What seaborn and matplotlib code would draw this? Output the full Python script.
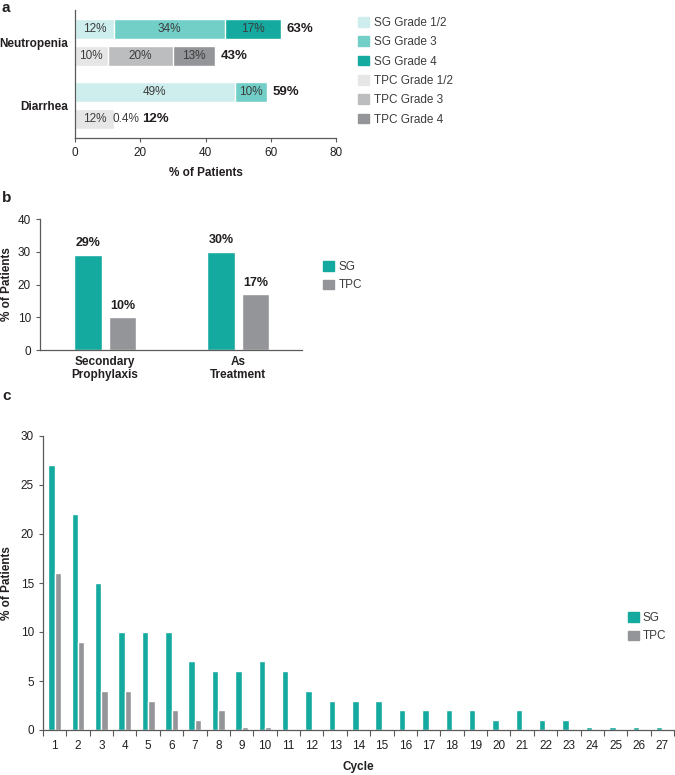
import numpy as np
import pandas as pd
import matplotlib
matplotlib.use("Agg")
import matplotlib.pyplot as plt
import seaborn as sns
from matplotlib.patches import Patch

# ---- panel a: grade of neutropenia / diarrhea (stacked) ----
a_conditions = ["Neutropenia", "Neutropenia", "Diarrhea", "Diarrhea"]
a_arms = ["SG", "TPC", "SG", "TPC"]
a_g12 = [12, 10, 49, 12]
a_g3 = [34, 20, 10, 0.4]
a_g4 = [17, 13, 0, 0]
a_total = [63, 43, 59, 12]

# ---- panel b: G-CSF use ----
b_categories = ["Secondary\nProphylaxis", "As\nTreatment"]
b_sg = [29, 30]
b_tpc = [10, 17]

# ---- panel c: neutropenia by cycle ----
c_cycles = [str(i) for i in range(1, 28)]
c_sg = [27, 22, 15, 10, 10, 10, 7, 6, 6, 7, 6, 4, 3, 3, 3, 2, 2, 2, 2, 1, 2, 1, 1, 0.3, 0.3, 0.3, 0.3]
c_tpc = [16, 9, 4, 4, 3, 2, 1, 2, 0.3, 0.3, 0, 0, 0, 0, 0, 0, 0, 0, 0, 0, 0, 0, 0, 0, 0, 0, 0]

SG_COL = "#14aaa0"
TPC_COL = "#939598"
sg_shades = {"g12": "#cdeeed", "g3": "#72cfc8", "g4": "#14aaa0"}
tpc_shades = {"g12": "#e6e6e6", "g3": "#bcbdbf", "g4": "#939598"}
legend_a_labels = ["SG Grade 1/2", "SG Grade 3", "SG Grade 4",
                   "TPC Grade 1/2", "TPC Grade 3", "TPC Grade 4"]

sns.set_style("ticks")
plt.rcParams["font.family"] = ["Liberation Sans", "DejaVu Sans"]
plt.rcParams["font.size"] = 8.5
TXT = "#231f20"
SPINE = "#5a5a5a"

fig = plt.figure(figsize=(6.75, 7.75), dpi=100)
W, H = 675, 775
ax_a = fig.add_axes([75 / W, 1 - 138 / H, 261 / W, 128 / H])
ax_b = fig.add_axes([40 / W, 1 - 350 / H, 262 / W, 131 / H])
ax_c = fig.add_axes([43 / W, 1 - 730 / H, 631 / W, 294 / H])


def style_axes(ax):
    sns.despine(ax=ax)
    for s in ["left", "bottom"]:
        ax.spines[s].set_color(SPINE)
        ax.spines[s].set_linewidth(0.9)
    ax.tick_params(colors=SPINE, labelcolor=TXT, labelsize=8.5, length=3, width=0.8)


# ---------------- panel a ----------------
df_a = pd.DataFrame({"condition": a_conditions, "arm": a_arms,
                     "g12": a_g12, "g3": a_g3, "g4": a_g4})
df_a["cum3"] = df_a["g12"] + df_a["g3"]
df_a["cum4"] = df_a["cum3"] + df_a["g4"]

# draw the longest cumulative layer first, shorter ones on top
for col, shade in [("cum4", "g4"), ("cum3", "g3"), ("g12", "g12")]:
    sns.barplot(data=df_a, y="condition", x=col, hue="arm", hue_order=["SG", "TPC"],
                palette={"SG": sg_shades[shade], "TPC": tpc_shades[shade]},
                orient="h", width=0.86, gap=0.26, saturation=1, legend=False, ax=ax_a)

bars = [b for cont in ax_a.containers[-2:] for b in cont]
ycs = sorted(b.get_y() + b.get_height() / 2 for b in bars)
for i, yc in enumerate(ycs):
    segs = [a_g12[i], a_g3[i], a_g4[i]]
    start = 0
    tiny = False
    for v in segs:
        if v <= 0:
            continue
        if v >= 2:
            ax_a.text(start + v / 2, yc, f"{v:g}%", ha="center", va="center",
                      color="#3c3c3c", fontsize=8.5)
        else:
            ax_a.annotate(f"{v:g}%", (start + v, yc), xytext=(-2, 0),
                          textcoords="offset points", ha="left", va="center",
                          color="#3c3c3c", fontsize=8.5)
            tiny = True
        start += v
    ax_a.annotate(f"{a_total[i]}%", (start, yc), xytext=(19 if tiny else 4, 0),
                  textcoords="offset points", ha="left", va="center",
                  fontweight="bold", fontsize=9.5, color=TXT)

style_axes(ax_a)
ax_a.set_xlim(0, 80)
ax_a.set_xticks([0, 20, 40, 60, 80])
ax_a.set_ylim(1.52, -0.52)
ax_a.set_yticks([0, 1])
ax_a.set_yticklabels(["Neutropenia", "Diarrhea"], fontweight="bold")
ax_a.tick_params(axis="y", length=0, pad=5)
ax_a.set_ylabel("")
ax_a.set_xlabel("% of Patients", fontweight="bold", fontsize=8.5, color=TXT, labelpad=6)

handles_a = [Patch(color=sg_shades[k]) for k in ["g12", "g3", "g4"]] + \
            [Patch(color=tpc_shades[k]) for k in ["g12", "g3", "g4"]]
fig.legend(handles_a, legend_a_labels, loc="upper left", bbox_to_anchor=(358 / W, 1 - 17 / H),
           frameon=False, borderpad=0, borderaxespad=0, handlelength=0.9, handleheight=0.9,
           handletextpad=0.45, labelspacing=0.62, fontsize=8.5, labelcolor="#3c3c3c")

# ---------------- panel b ----------------
df_b = pd.DataFrame({"category": b_categories * 2,
                     "arm": ["SG"] * len(b_sg) + ["TPC"] * len(b_tpc),
                     "pct": b_sg + b_tpc})
sns.barplot(data=df_b, x="category", y="pct", hue="arm", hue_order=["SG", "TPC"],
            palette={"SG": SG_COL, "TPC": TPC_COL}, width=0.52, gap=0.2,
            saturation=1, legend=False, ax=ax_b)
for cont, vals in zip(ax_b.containers, [b_sg, b_tpc]):
    ax_b.bar_label(cont, labels=[f"{v}%" for v in vals], padding=4,
                   fontweight="bold", fontsize=9, color=TXT)
style_axes(ax_b)
ax_b.set_ylim(0, 40)
ax_b.set_yticks([0, 10, 20, 30, 40])
ax_b.set_xlim(-0.49, 1.48)
ax_b.tick_params(axis="x", length=0, pad=4)
for lab in ax_b.get_xticklabels():
    lab.set_fontweight("bold")
ax_b.set_xlabel("")
ax_b.set_ylabel("% of Patients", fontweight="bold", fontsize=8.5, color=TXT)
ax_b.yaxis.set_label_coords(-27 / 262, 0.5)
fig.legend([Patch(color=SG_COL), Patch(color=TPC_COL)], ["SG", "TPC"], loc="upper left",
           bbox_to_anchor=(323 / W, 1 - 261 / H), frameon=False, borderpad=0, borderaxespad=0,
           handlelength=0.9, handleheight=0.9, handletextpad=0.45, labelspacing=0.55,
           fontsize=8.5, labelcolor="#3c3c3c")

# ---------------- panel c ----------------
df_c = pd.DataFrame({"cycle": c_cycles * 2,
                     "arm": ["SG"] * len(c_sg) + ["TPC"] * len(c_tpc),
                     "pct": c_sg + c_tpc})
sns.barplot(data=df_c, x="cycle", y="pct", hue="arm", hue_order=["SG", "TPC"], order=c_cycles,
            palette={"SG": SG_COL, "TPC": TPC_COL}, width=0.55, gap=0,
            saturation=1, legend=False, ax=ax_c)
style_axes(ax_c)
ax_c.set_ylim(0, 30)
ax_c.set_yticks([0, 5, 10, 15, 20, 25, 30])
ax_c.set_xlim(-0.5, len(c_cycles) - 0.5)
ax_c.set_xticks(np.arange(-0.5, len(c_cycles), 1), minor=True)
ax_c.tick_params(axis="x", which="major", length=0, pad=7)
ax_c.tick_params(axis="x", which="minor", length=4, width=0.8, color=SPINE)
ax_c.set_xlabel("Cycle", fontweight="bold", fontsize=8.5, color=TXT, labelpad=7)
ax_c.set_ylabel("% of Patients", fontweight="bold", fontsize=8.5, color=TXT)
ax_c.yaxis.set_label_coords(-30 / 631, 0.5)
fig.legend([Patch(color=SG_COL), Patch(color=TPC_COL)], ["SG", "TPC"], loc="upper left",
           bbox_to_anchor=(628 / W, 1 - 612 / H), frameon=False, borderpad=0, borderaxespad=0,
           handlelength=0.9, handleheight=0.9, handletextpad=0.35, labelspacing=0.55,
           fontsize=8.5, labelcolor="#3c3c3c")

# panel letters
for letter, ypx in [("a", 8), ("b", 198), ("c", 396)]:
    fig.text(2 / W, 1 - ypx / H, letter, fontweight="bold", fontsize=11, va="center", color=TXT)

fig.savefig("out.png", dpi=100)
